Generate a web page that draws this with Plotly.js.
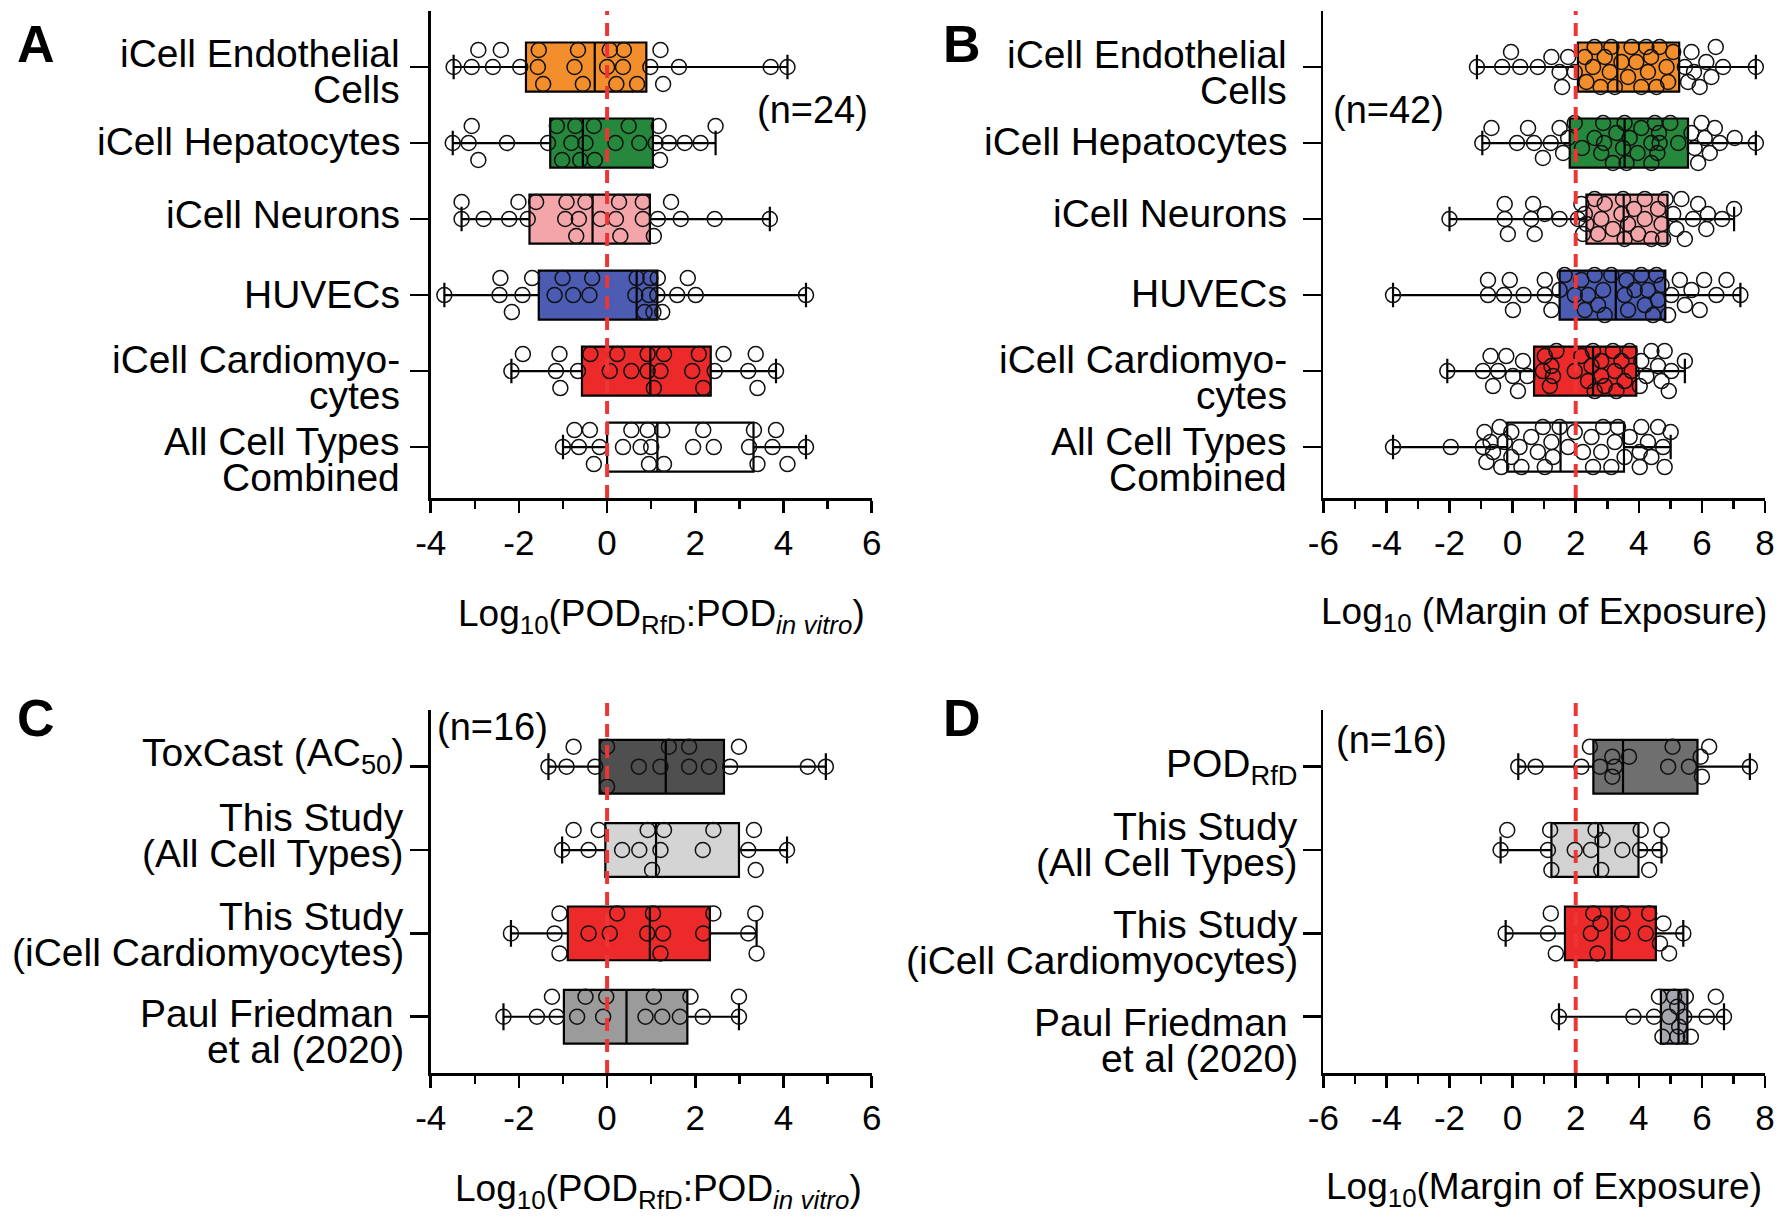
<!DOCTYPE html>
<html>
<head>
<meta charset="utf-8">
<script src="https://cdn.plot.ly/plotly-3.0.1.min.js"></script>
<style>
html,body{margin:0;padding:0;background:#fff;}
#chart{width:1787px;height:1225px;}
</style>
</head>
<body>
<div id="chart"></div>
<script>
// ---------------- DATA ----------------
const topCategories = ["iCell Endothelial<br>Cells", "iCell Hepatocytes", "iCell Neurons", "HUVECs", "iCell Cardiomyo-<br>cytes", "All Cell Types<br>Combined"];
const catsC = ["ToxCast (AC<sub>50</sub>)", "This Study<br>(All Cell Types)", "This Study<br>(iCell Cardiomyocytes)", "Paul Friedman&#160;<br>et al (2020)"];
const catsD = ["POD<sub>RfD</sub>", "This Study<br>(All Cell Types)", "This Study<br>(iCell Cardiomyocytes)", "Paul Friedman&#160;<br>et al (2020)"];

// x tick values / labels
const ticksPOD = [-4, -2, 0, 2, 4, 6];
const ticksPODText = ["-4", "-2", "0", "2", "4", "6"];
const ticksMOE = [-6, -4, -2, 0, 2, 4, 6, 8];
const ticksMOEText = ["-6", "-4", "-2", "0", "2", "4", "6", "8"];

// Panel A: Log10(POD_RfD : POD_in vitro)
const A_endothelial = [-3.48,-3.07,-2.92,-2.59,-2.41,-1.97,-1.57,-1.45,-1.55,-0.74,-0.55,-0.66,0.21,0.0,0.06,0.36,0.68,0.38,0.98,1.21,1.27,1.63,3.71,4.09];
const A_hepatocytes = [-3.5,-3.07,-3.14,-2.92,-2.27,-1.34,-1.14,-1.02,-0.81,-0.61,-0.72,-0.49,-0.30,-0.28,0.19,0.49,0.73,1.17,1.40,1.20,1.10,1.76,2.12,2.46];
const A_neurons = [-3.30,-3.30,-2.80,-2.22,-2.01,-1.80,-1.61,-0.92,-0.95,-0.64,-0.70,-0.49,-0.15,0.27,0.20,0.30,0.81,0.81,1.06,1.15,1.45,1.67,2.44,3.69];
const A_huvecs = [-3.69,-2.42,-2.44,-2.16,-1.92,-1.70,-1.19,-1.01,-0.77,-0.40,-0.34,0.64,0.67,0.95,1.25,1.15,1.14,0.98,0.85,1.05,1.59,2.01,1.83,4.51];
const A_cardio = [-2.17,-1.91,-1.16,-1.06,-1.08,-0.66,-0.38,0.06,0.23,0.55,0.92,0.92,1.06,1.29,1.21,1.93,2.18,2.08,2.64,2.44,3.20,3.37,3.41,3.83];
const A_all = [-1.0,-0.74,-0.64,-0.39,-0.30,-0.17,0.36,0.55,0.76,0.95,1.0,0.92,1.29,1.25,1.95,2.18,2.42,3.22,3.41,3.33,3.75,3.83,4.09,4.51];
const A_q1  = [-1.84,-1.29,-1.76,-1.55,-0.57,0.0];
const A_med = [-0.28,-0.55,-0.33,0.67,0.98,1.14];
const A_q3  = [0.89,1.04,0.97,1.14,2.35,3.32];
const A_min = [-3.48,-3.5,-3.30,-3.69,-2.17,-1.0];
const A_max = [4.09,2.46,3.69,4.51,3.83,4.51];

// Panel B: Log10 (Margin of Exposure)
const B_endothelial = [-1.13,-0.33,-0.05,0.24,0.80,1.23,1.49,1.57,1.76,1.97,2.29,2.55,2.79,2.92,2.60,3.08,3.24,3.45,3.66,3.92,4.08,4.24,4.29,4.56,4.66,4.88,4.93,5.09,5.46,5.56,5.67,5.93,5.75,6.14,6.30,6.44,6.67,7.71,2.34,3.77,4.39,3.13];
const B_hepatocytes = [-0.96,-0.67,0.14,0.49,0.68,0.96,1.21,1.49,1.60,1.76,2.20,2.87,2.81,2.90,3.18,3.29,3.50,3.61,3.55,3.71,3.96,4.40,4.51,4.59,4.64,4.66,5.00,4.40,5.67,5.88,5.77,5.99,6.25,6.41,6.57,7.04,7.71,1.97,2.60,4.08,5.25,6.09];
const B_neurons = [-2.0,-0.25,-0.25,-0.15,0.59,0.65,1.02,1.49,2.18,2.29,2.34,2.60,2.71,2.92,3.18,3.45,3.50,3.55,3.85,3.98,4.19,4.40,4.72,4.77,5.09,5.19,5.35,5.46,5.72,5.88,6.14,6.19,6.64,7.02,2.07,2.23,2.81,3.66,4.19,4.61,4.85,0.70];
const B_huvecs = [-3.79,-0.78,-0.78,-0.27,-0.09,0.01,0.35,1.02,1.02,1.23,1.49,1.65,1.97,2.18,2.39,2.60,2.71,2.87,3.13,3.61,3.66,3.55,3.87,4.08,4.29,4.45,4.56,4.61,4.72,4.93,5.03,5.30,5.46,5.67,5.93,6.07,6.46,6.78,7.22,2.92,4.19,2.29];
const B_cardio = [-2.07,-0.94,-0.62,-0.70,-0.46,-0.20,0.01,0.17,0.33,0.47,0.96,1.28,1.18,1.23,1.39,1.97,2.39,2.55,2.50,2.81,2.92,3.18,3.24,3.29,3.55,3.71,3.77,4.08,4.03,4.24,4.40,4.61,4.72,4.82,4.95,5.03,5.46,1.02,2.60,2.18,3.45,2.81];
const B_all = [-3.79,-1.96,-0.94,-0.83,-0.89,-0.70,-0.62,-0.41,-0.25,-0.36,-0.04,0.22,0.28,0.59,0.80,0.96,1.23,1.28,1.49,1.97,2.23,2.50,2.55,2.81,2.87,3.24,3.34,3.71,4.03,4.08,4.03,4.40,4.29,4.61,4.77,4.82,5.01,-0.04,1.02,1.76,3.13,3.55];
const B_q1  = [2.07,1.81,2.34,1.49,0.68,-0.17];
const B_med = [3.32,3.55,3.52,3.27,2.55,1.52];
const B_q3  = [5.28,5.56,4.91,4.84,3.92,3.53];
const B_min = [-1.13,-0.96,-2.0,-3.79,-2.07,-3.79];
const B_max = [7.71,7.71,7.02,7.22,5.46,5.01];

// Panel C: Log10(POD_RfD : POD_in vitro), n=16
const C_toxcast = [-1.33,-0.92,-0.76,-0.27,0.0,0.0,0.72,1.21,1.40,1.86,1.86,2.31,2.79,2.99,4.55,4.96];
const C_allCells = [-1.02,-0.76,-0.42,-0.19,0.34,0.73,0.92,1.02,1.21,1.29,2.17,2.41,3.37,3.33,3.20,4.08];
const C_cardio = [-2.18,-1.08,-1.19,-1.08,-0.42,0.06,0.23,0.91,1.21,1.27,1.04,2.18,2.41,3.20,3.36,3.39];
const C_friedman = [-2.35,-1.59,-1.14,-1.25,-0.68,-0.49,-0.09,-0.02,0.87,1.06,1.25,1.65,1.89,2.17,2.99,2.99];
const C_q1  = [-0.17,-0.04,-0.89,-0.98];
const C_med = [1.33,1.11,0.97,0.44];
const C_q3  = [2.65,2.99,2.33,1.82];
const C_min = [-1.33,-1.02,-2.18,-2.35];
const C_max = [4.96,4.08,3.39,2.99];

// Panel D: Log10(Margin of Exposure), n=16
const D_podRfd = [0.18,0.73,2.18,2.45,3.16,2.77,3.16,3.24,3.69,5.07,4.93,5.59,6.00,6.23,5.96,7.52];
const D_allCells = [-0.17,-0.38,1.12,1.23,1.19,1.97,2.81,2.48,2.85,2.63,3.48,4.04,4.06,4.33,4.66,4.72];
const D_cardio = [-0.22,1.21,1.12,1.37,2.48,2.69,2.56,2.79,3.48,3.48,4.33,4.22,4.67,4.78,4.96,5.41];
const D_friedman = [1.47,3.83,4.48,4.64,4.75,4.96,5.12,5.28,5.22,5.22,5.44,5.49,5.65,6.15,6.44,6.70];
const D_q1  = [2.56,1.23,1.66,4.70];
const D_med = [3.50,2.71,3.14,5.26];
const D_q3  = [5.86,3.99,4.54,5.54];
const D_min = [0.18,-0.38,-0.22,1.47];
const D_max = [7.52,4.72,5.41,6.70];

const nLabels = ["(n=24)", "(n=42)", "(n=16)", "(n=16)"];
const titlePOD = "Log<sub>10</sub>(POD<sub>RfD</sub>:POD<sub><i>in vitro</i></sub>)";
const titleMOE_B = "Log<sub>10</sub> (Margin of Exposure)";
const titleMOE_D = "Log<sub>10</sub>(Margin of Exposure)";
const referenceLines = [0, 2, 0, 2];

// ---------------- STYLE ----------------
const topColors = ["#F28E2B", "#25883C", "#F4A5AA", "#4B5CB2", "#EC2A2A", "#FFFFFF"];
const colorsC = ["#4F4F4F", "#D4D4D4", "#EC2A2A", "#9B9B9B"];
const colorsD = ["#6F6F6F", "#D2D2D2", "#EC2A2A", "#A4A7AD"];

const FONT = "Liberation Sans, Arial, Helvetica, sans-serif";
const W = 1787, H = 1225;
const LINE_GAP = 36;
const LABEL_SIZE = 39;

const panels = [
  {letter:"A", xa:"x",  ya:"y",  xPix:[430.7,871.7], yPix:[11,498],   xRange:[-4,6], yRange:[-0.737,5.67],
   ticks:ticksPOD, tickText:ticksPODText,
   cats:topCategories, rows:[A_endothelial,A_hepatocytes,A_neurons,A_huvecs,A_cardio,A_all],
   q1:A_q1, med:A_med, q3:A_q3, lo:A_min, hi:A_max, colors:topColors, ref:referenceLines[0], refTop:1.0,
   n:nLabels[0], nPos:[812,110], title:titlePOD, titlePos:[661,616], labelGap:29,
   labelShift:[4,-2,-5,-1,6,12], letterPos:[36,44], swarm:[15,17,17]},
  {letter:"B", xa:"x2", ya:"y2", xPix:[1323.3,1765], yPix:[11,498],   xRange:[-6,8], yRange:[-0.737,5.67],
   ticks:ticksMOE, tickText:ticksMOEText,
   cats:topCategories, rows:[B_endothelial,B_hepatocytes,B_neurons,B_huvecs,B_cardio,B_all],
   q1:B_q1, med:B_med, q3:B_q3, lo:B_min, hi:B_max, colors:topColors, ref:referenceLines[1], refTop:1.0,
   n:nLabels[1], nPos:[1388,110], title:titleMOE_B, titlePos:[1544,614], labelGap:34,
   labelShift:[5,-2,-6,-2,6,12], letterPos:[962,44], swarm:[15,5,24]},
  {letter:"C", xa:"x3", ya:"y3", xPix:[430.7,871.7], yPix:[710,1073], xRange:[-4,6], yRange:[-0.68,3.675],
   ticks:ticksPOD, tickText:ticksPODText,
   cats:catsC, rows:[C_toxcast,C_allCells,C_cardio,C_friedman],
   q1:C_q1, med:C_med, q3:C_q3, lo:C_min, hi:C_max, colors:colorsC, ref:referenceLines[2], refTop:1.04,
   n:nLabels[2], nPos:[492,727], title:titlePOD, titlePos:[658,1191], labelGap:25,
   labelShift:[-11,-15,1,15], letterPos:[36,718], swarm:[15,20,20]},
  {letter:"D", xa:"x4", ya:"y4", xPix:[1323.3,1765], yPix:[710,1073], xRange:[-6,8], yRange:[-0.68,3.675],
   ticks:ticksMOE, tickText:ticksMOEText,
   cats:catsD, rows:[D_podRfd,D_allCells,D_cardio,D_friedman],
   q1:D_q1, med:D_med, q3:D_q3, lo:D_min, hi:D_max, colors:colorsD, ref:referenceLines[3], refTop:1.04,
   n:nLabels[3], nPos:[1391,740], title:titleMOE_D, titlePos:[1544,1189], labelGap:23,
   labelShift:[0,-6,9,24], letterPos:[962,718], swarm:[15,10,20]}
];

// beeswarm offsets (in px) computed from the values
function swarm(vals, pxX, d, step, maxOff) {
  const idx = vals.map((v,i)=>i).sort((a,b)=>vals[a]-vals[b]);
  const cands = [0];
  for (let k=1; k*step<=maxOff+0.01; k++) cands.push(-k*step, k*step);
  const placed = [];
  const off = new Array(vals.length);
  for (const i of idx) {
    const xp = vals[i]*pxX;
    let best = 0, bestScore = -1;
    for (const c of cands) {
      let minD = Infinity;
      for (const p of placed) {
        const dx = xp-p[0], dy = c-p[1];
        const dd = Math.sqrt(dx*dx+dy*dy);
        if (dd < minD) minD = dd;
      }
      if (minD >= d) { best = c; bestScore = Infinity; break; }
      if (minD > bestScore) { bestScore = minD; best = c; }
    }
    placed.push([xp, best]);
    off[i] = best;
  }
  return off;
}

const traces = [];
const annotations = [];
const shapes = [];
const layout = {
  width: W, height: H,
  margin: {l:0, r:0, t:0, b:0},
  paper_bgcolor: "#fff", plot_bgcolor: "rgba(0,0,0,0)",
  showlegend: false, boxmode: "overlay",
  font: {family: FONT, color: "#000"},
  annotations: annotations, shapes: shapes
};

panels.forEach((p) => {
  const xKey = "xaxis" + p.xa.slice(1);
  const yKey = "yaxis" + p.ya.slice(1);
  const pxX = (p.xPix[1]-p.xPix[0])/(p.xRange[1]-p.xRange[0]);
  const pxY = (p.yPix[1]-p.yPix[0])/(p.yRange[1]-p.yRange[0]);
  const positions = p.cats.map((c,i)=>i);

  layout[xKey] = {
    domain: [p.xPix[0]/W, p.xPix[1]/W], range: p.xRange, anchor: p.ya,
    showline: true, linecolor: "#000", linewidth: 2.5, mirror: false,
    showgrid: false, zeroline: false,
    tickmode: "array", tickvals: p.ticks, ticktext: p.tickText,
    ticks: "outside", ticklen: 12, tickwidth: 2.5, tickcolor: "#000",
    ticklabelstandoff: 0,
    tickfont: {family: FONT, size: 35, color: "#000"},
    minor: {tickmode: "linear", ticks: "outside", ticklen: 8, tickwidth: 2.5, tickcolor: "#000", dtick: 1, tick0: 0, showgrid: false},
    fixedrange: true
  };
  // category tick marks drawn as (label-free) minor ticks; labels are annotations
  layout[yKey] = {
    domain: [1-p.yPix[1]/H, 1-p.yPix[0]/H], range: [p.yRange[1], p.yRange[0]], anchor: p.xa,
    showline: true, linecolor: "#000", linewidth: 2.5,
    showgrid: false, zeroline: false,
    tickmode: "array", tickvals: [], ticks: "", showticklabels: false,
    minor: {tickmode: "array", tickvals: positions, ticks: "outside", ticklen: 18, tickwidth: 2.5, tickcolor: "#000", showgrid: false},
    fixedrange: true
  };

  // boxes
  p.rows.forEach((vals, i) => {
    traces.push({
      type: "box", orientation: "h", xaxis: p.xa, yaxis: p.ya,
      y: [i], q1: [p.q1[i]], median: [p.med[i]], q3: [p.q3[i]],
      lowerfence: [p.lo[i]], upperfence: [p.hi[i]],
      width: 0.645, whiskerwidth: 0.5, boxpoints: false,
      fillcolor: p.colors[i], line: {color: "#000", width: 2.2},
      hoverinfo: "skip"
    });
  });
  // points: one scatter trace per panel
  const px = [], py = [];
  p.rows.forEach((vals, i) => {
    const off = swarm(vals, pxX, p.swarm[0], p.swarm[1], p.swarm[2]);
    vals.forEach((v, k) => { px.push(v); py.push(i + off[k]/pxY); });
  });
  traces.push({
    type: "scatter", mode: "markers", xaxis: p.xa, yaxis: p.ya,
    x: px, y: py,
    marker: {symbol: "circle-open", size: 15, color: "#111", line: {width: 1.5}},
    cliponaxis: false, hoverinfo: "skip"
  });

  // reference dashed line
  shapes.push({
    type: "line", xref: p.xa, yref: p.ya + " domain",
    x0: p.ref, x1: p.ref, y0: 0, y1: p.refTop,
    line: {color: "#EE3535", width: 4, dash: "13px,8px"}, layer: "above"
  });

  // category labels, one annotation per line
  p.cats.forEach((c, i) => {
    const lines = c.split("<br>");
    lines.forEach((ln, j) => {
      const offPx = p.labelShift[i] + (j - (lines.length-1)/2) * LINE_GAP;
      annotations.push({
        xref: p.xa + " domain", x: 0, xanchor: "right", xshift: -p.labelGap,
        yref: p.ya, y: i, yanchor: "middle", yshift: -offPx,
        text: ln, showarrow: false, align: "right",
        font: {family: FONT, size: LABEL_SIZE, color: "#000"}
      });
    });
  });

  // n label
  annotations.push({
    xref: "paper", yref: "paper", x: p.nPos[0]/W, y: 1-p.nPos[1]/H,
    xanchor: "center", yanchor: "middle", text: p.n, showarrow: false,
    font: {family: FONT, size: 38, color: "#000"}
  });
  // axis title
  annotations.push({
    xref: "paper", yref: "paper", x: p.titlePos[0]/W, y: 1-p.titlePos[1]/H,
    xanchor: "center", yanchor: "middle", text: p.title, showarrow: false,
    font: {family: FONT, size: 37, color: "#000"}
  });
  // panel letter
  annotations.push({
    xref: "paper", yref: "paper", x: p.letterPos[0]/W, y: 1-p.letterPos[1]/H,
    xanchor: "center", yanchor: "middle", text: "<b>" + p.letter + "</b>", showarrow: false,
    font: {family: FONT, size: 52, color: "#000"}
  });
});

Plotly.newPlot("chart", traces, layout, {displayModeBar: false, staticPlot: true});
</script>
</body>
</html>
